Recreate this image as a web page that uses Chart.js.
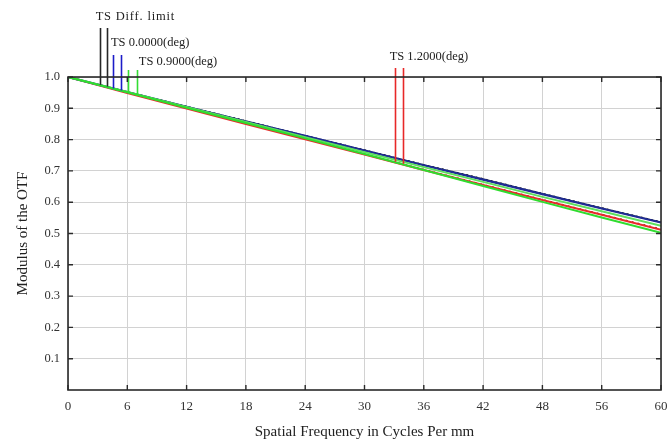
<!DOCTYPE html>
<html>
<head>
<meta charset="utf-8">
<script src="https://cdn.jsdelivr.net/npm/chart.js@4.4.1/dist/chart.umd.min.js"></script>
<style>
  html, body { margin: 0; padding: 0; background: #fff; }
  #wrap { width: 671px; height: 441px; }
</style>
</head>
<body>
<div id="wrap"><canvas id="mtf"></canvas></div>
<script>
// spatial frequency samples (cycles/mm)
const freq = [0, 6, 12, 18, 24, 30, 36, 42, 48, 54, 60];
const xTickLabels = ['0', '6', '12', '18', '24', '30', '36', '42', '48', '56', '60'];
const yTickLabels = ['0.1', '0.2', '0.3', '0.4', '0.5', '0.6', '0.7', '0.8', '0.9', '1.0'];

// MTF values
const diffT  = [1, 0.953, 0.906, 0.860, 0.813, 0.767, 0.720, 0.675, 0.628, 0.582, 0.537];
const diffS  = [1, 0.953, 0.906, 0.860, 0.813, 0.767, 0.720, 0.675, 0.628, 0.582, 0.537];
const deg0T  = [1, 0.952, 0.905, 0.858, 0.812, 0.765, 0.718, 0.672, 0.626, 0.580, 0.535];
const deg0S  = [1, 0.952, 0.905, 0.858, 0.812, 0.765, 0.718, 0.672, 0.626, 0.580, 0.535];
const deg09T = [1, 0.952, 0.904, 0.856, 0.808, 0.760, 0.712, 0.665, 0.617, 0.571, 0.525];
const deg09S = [1, 0.951, 0.902, 0.853, 0.804, 0.754, 0.703, 0.652, 0.601, 0.551, 0.502];
const deg12T = [1, 0.950, 0.901, 0.852, 0.803, 0.754, 0.705, 0.657, 0.609, 0.562, 0.515];
const deg12S = [1, 0.949, 0.899, 0.850, 0.801, 0.752, 0.703, 0.655, 0.607, 0.560, 0.512];

// legend markers: label, frequencies of the T and S tags, series they sit on
const markerNames = ['TS Diff. limit', 'TS 0.0000(deg)', 'TS 0.9000(deg)', 'TS 1.2000(deg)'];
const markerFreqs = [[3.2, 3.9], [4.55, 5.35], [6.05, 6.95], [33.05, 33.85]];
const markerSeries = [diffT, deg0T, deg09T, deg12T];

// styling for the markers (pixels)
const markerColors = ['#262626', '#1c1cc8', '#33dd33', '#e82828'];
const markerTops = [28, 55, 70, 68];
const labelDx = [-4, -2, 11, -5];
const labelY = [17, 43, 62, 57];
const labelSpacing = ['0.8px', '0px', '0px', '0px'];

const pts = arr => freq.map((f, i) => ({ x: f, y: arr[i] }));

function valueAt(arr, f) {
  for (let i = 0; i < freq.length - 1; i++) {
    if (f >= freq[i] && f <= freq[i + 1]) {
      const t = (f - freq[i]) / (freq[i + 1] - freq[i]);
      return arr[i] + t * (arr[i + 1] - arr[i]);
    }
  }
  return arr[arr.length - 1];
}

// frame, inward ticks and the TS tags
const decorPlugin = {
  id: 'decor',
  afterDatasetsDraw(chart) {
    const { ctx, chartArea: a, scales: { x, y } } = chart;
    ctx.save();

    // tags above the curves
    markerNames.forEach((name, m) => {
      ctx.strokeStyle = markerColors[m];
      ctx.lineWidth = 1.6;
      markerFreqs[m].forEach(f => {
        const px = Math.round(x.getPixelForValue(f)) + 0.5;
        const py = y.getPixelForValue(valueAt(markerSeries[m], f));
        ctx.beginPath();
        ctx.moveTo(px, markerTops[m]);
        ctx.lineTo(px, py);
        ctx.stroke();
      });
      ctx.fillStyle = '#222';
      ctx.font = '12.5px "Liberation Serif"';
      ctx.letterSpacing = labelSpacing[m];
      ctx.textBaseline = 'middle';
      ctx.textAlign = 'left';
      ctx.fillText(name, x.getPixelForValue(markerFreqs[m][0]) + labelDx[m], labelY[m]);
    });
    ctx.letterSpacing = '0px';

    // plot frame
    ctx.strokeStyle = '#2a2a2a';
    ctx.lineWidth = 1.6;
    ctx.strokeRect(a.left, a.top, a.right - a.left, a.bottom - a.top);

    // inward tick marks on all four sides
    ctx.lineWidth = 1.4;
    freq.forEach(f => {
      const px = x.getPixelForValue(f);
      ctx.beginPath();
      ctx.moveTo(px, a.bottom); ctx.lineTo(px, a.bottom - 5);
      ctx.moveTo(px, a.top); ctx.lineTo(px, a.top + 5);
      ctx.stroke();
    });
    yTickLabels.forEach(lbl => {
      const py = y.getPixelForValue(parseFloat(lbl));
      ctx.beginPath();
      ctx.moveTo(a.left, py); ctx.lineTo(a.left + 5, py);
      ctx.moveTo(a.right, py); ctx.lineTo(a.right - 5, py);
      ctx.stroke();
    });
    ctx.restore();
  }
};

const tickFont = { family: '"Liberation Serif", "DejaVu Serif", serif', size: 13 };
const titleFont = { family: '"Liberation Serif", "DejaVu Serif", serif', size: 15 };

new Chart(document.getElementById('mtf'), {
  type: 'line',
  data: {
    datasets: [
      { label: '0.9 S', data: pts(deg09S), borderColor: '#2fdc2f', borderWidth: 2 },
      { label: '0.9 T', data: pts(deg09T), borderColor: '#5ee05e', borderWidth: 2 },
      { label: '0 S', data: pts(deg0S), borderColor: '#1f2c94', borderWidth: 2.2 },
      { label: '0 T', data: pts(deg0T), borderColor: '#1f2c94', borderWidth: 1 },
      { label: 'Diff S', data: pts(diffS), borderColor: '#111', borderWidth: 1.2, borderDash: [2, 3] },
      { label: 'Diff T', data: pts(diffT), borderColor: '#111', borderWidth: 0.6 },
      { label: '1.2 S', data: pts(deg12S), borderColor: '#e82a2a', borderWidth: 2 },
      { label: '1.2 T', data: pts(deg12T), borderColor: '#8a1a1a', borderWidth: 1, borderDash: [2, 4] }
    ].map(d => Object.assign({ pointRadius: 0, tension: 0, fill: false }, d))
  },
  options: {
    responsive: true,
    maintainAspectRatio: false,
    animation: false,
    layout: { padding: { left: 0, right: 10, top: 77, bottom: 0 } },
    plugins: { legend: { display: false }, tooltip: { enabled: false } },
    scales: {
      x: {
        type: 'linear',
        min: 0,
        max: 60,
        afterFit: s => { s.height = 51; s.paddingLeft = 0; s.paddingRight = 0; },
        afterBuildTicks: s => { s.ticks = freq.map(v => ({ value: v })); },
        ticks: {
          padding: 9,
          color: '#333',
          font: tickFont,
          maxRotation: 0,
          autoSkip: false,
          callback: (v, i) => xTickLabels[i]
        },
        grid: { color: '#d2d2d2', lineWidth: 1, drawTicks: false },
        border: { display: false },
        title: { display: true, text: 'Spatial Frequency in Cycles Per mm', color: '#222', font: titleFont, padding: { top: 0, bottom: 0 } }
      },
      y: {
        min: 0,
        max: 1,
        afterFit: s => { s.width = 68; s.paddingTop = 0; s.paddingBottom = 0; },
        afterBuildTicks: s => { s.ticks = yTickLabels.map(t => ({ value: parseFloat(t) })); },
        ticks: {
          padding: 8,
          color: '#333',
          font: { family: tickFont.family, size: 12.5 },
          callback: (v, i) => yTickLabels[i]
        },
        grid: { color: '#d2d2d2', lineWidth: 1, drawTicks: false },
        border: { display: false },
        title: { display: true, text: 'Modulus of the OTF', color: '#222', font: titleFont, padding: { top: 14, bottom: 0 } }
      }
    }
  },
  plugins: [decorPlugin]
});
</script>
</body>
</html>
